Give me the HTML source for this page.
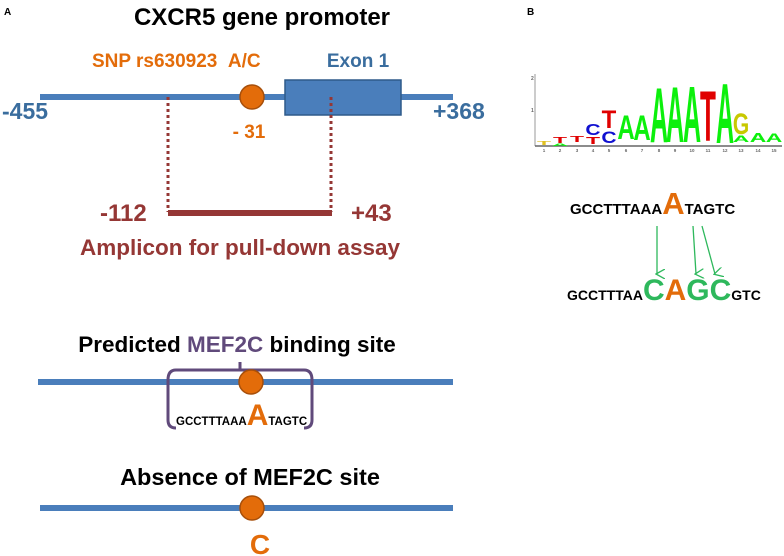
<!DOCTYPE html>
<html><head><meta charset="utf-8"><style>
html,body{margin:0;padding:0;background:#fff;width:784px;height:556px;overflow:hidden}
svg{display:block}
text{font-family:"Liberation Sans",sans-serif;font-weight:bold}
</style></head><body>
<svg width="784" height="556" viewBox="0 0 784 556" xmlns="http://www.w3.org/2000/svg">
<defs><marker id="ar" markerWidth="10" markerHeight="10" refX="5" refY="8" orient="auto" markerUnits="userSpaceOnUse"><path d="M0,0 L5,9 L10,0" fill="none" stroke="#2eb85c" stroke-width="1.3"/></marker></defs>
<text x="4" y="15" font-size="10">A</text>
<text x="527" y="15" font-size="10">B</text>
<text x="262" y="25" font-size="24" text-anchor="middle">CXCR5 gene promoter</text>
<text x="92" y="67" font-size="19" fill="#e36c0a">SNP rs630923&#160;&#160;A/C</text>
<text x="358" y="67" font-size="19" fill="#3a6d9e" text-anchor="middle">Exon 1</text>
<line x1="40" y1="97" x2="453" y2="97" stroke="#4a7ebb" stroke-width="6"/>
<rect x="285" y="80" width="116" height="35" fill="#4a7ebb" stroke="#2e5a8a" stroke-width="1.5"/>
<circle cx="252" cy="97" r="12" fill="#e36c0a" stroke="#a74f0a" stroke-width="1.5"/>
<text x="2" y="119" font-size="23" fill="#3a6d9e">-455</text>
<text x="433" y="119" font-size="23" fill="#3a6d9e">+368</text>
<text x="249" y="138" font-size="19" fill="#e36c0a" text-anchor="middle">- 31</text>
<line x1="168" y1="97" x2="168" y2="212" stroke="#953735" stroke-width="3" stroke-dasharray="3,3"/>
<line x1="331" y1="97" x2="331" y2="212" stroke="#953735" stroke-width="3" stroke-dasharray="3,3"/>
<line x1="168" y1="213" x2="332" y2="213" stroke="#953735" stroke-width="6"/>
<text x="100" y="221" font-size="24" fill="#953735">-112</text>
<text x="351" y="221" font-size="24" fill="#953735">+43</text>
<text x="240" y="255" font-size="22.5" fill="#953735" text-anchor="middle">Amplicon for pull-down assay</text>
<text x="237" y="352" font-size="22.5" text-anchor="middle">Predicted <tspan fill="#604a7b">MEF2C</tspan> binding site</text>
<line x1="38" y1="382" x2="453" y2="382" stroke="#4a7ebb" stroke-width="6"/>
<path d="M240,362 V370 M176,370 H304 M176,370 Q168,370 168,380 V420 Q168,428 176,428 M304,370 Q312,370 312,380 V420 Q312,428 304,428" fill="none" stroke="#604a7b" stroke-width="3"/>
<circle cx="251" cy="382" r="12" fill="#e36c0a" stroke="#a74f0a" stroke-width="1.5"/>
<text x="176" y="425" font-size="11.5">GCCTTTAAA<tspan font-size="30" fill="#e36c0a">A</tspan>TAGTC</text>
<text x="250" y="485" font-size="23.5" text-anchor="middle">Absence of MEF2C site</text>
<line x1="40" y1="508" x2="453" y2="508" stroke="#4a7ebb" stroke-width="6"/>
<circle cx="252" cy="508" r="12" fill="#e36c0a" stroke="#a74f0a" stroke-width="1.5"/>
<text x="260" y="554" font-size="28" fill="#e36c0a" text-anchor="middle">C</text>
<!-- logo -->
<g>
<line x1="535" y1="74" x2="535" y2="146" stroke="#999" stroke-width="1"/>
<line x1="535" y1="146" x2="782" y2="146" stroke="#666" stroke-width="1.5"/>
<text x="531" y="80" font-size="5" fill="#666" font-weight="normal">2</text>
<text x="531" y="112" font-size="5" fill="#666" font-weight="normal">1</text>
<g font-size="4.5" fill="#666" font-weight="normal" text-anchor="middle">
<text x="544" y="152">1</text><text x="560" y="152">2</text><text x="577" y="152">3</text><text x="593" y="152">4</text><text x="609" y="152">5</text><text x="626" y="152">6</text><text x="642" y="152">7</text><text x="659" y="152">8</text><text x="675" y="152">9</text><text x="692" y="152">10</text><text x="708" y="152">11</text><text x="725" y="152">12</text><text x="741" y="152">13</text><text x="758" y="152">14</text><text x="774" y="152">15</text>
</g>
<g font-size="10" text-anchor="middle">
<text transform="translate(544,145) scale(2.3,0.5)" fill="#e0c020">T</text>
<text transform="translate(560,143) scale(2.3,0.8)" fill="#e00000">T</text>
<text transform="translate(560,146) scale(2.3,0.4)" fill="#0cf00c">A</text>
<text transform="translate(577,142) scale(2.3,0.8)" fill="#e00000">T</text>
<text transform="translate(593,135) scale(2.1,1.6)" fill="#1010d0">C</text>
<text transform="translate(593,144) scale(2.3,1)" fill="#e00000">T</text>
<text transform="translate(609,128) scale(2.4,2.5)" fill="#e00000">T</text>
<text transform="translate(609,143) scale(2.1,1.7)" fill="#1010d0">C</text>
<text transform="translate(626,139) scale(2.4,3.4)" fill="#0cf00c">A</text>
<text transform="translate(642,140) scale(2.4,3.5)" fill="#0cf00c">A</text>
<text transform="translate(659,142) scale(2.5,7.8)" fill="#0cf00c">A</text>
<text transform="translate(675,142) scale(2.5,7.9)" fill="#0cf00c">A</text>
<text transform="translate(692,142) scale(2.5,8)" fill="#0cf00c">A</text>
<text transform="translate(708,141) scale(2.6,7.1)" fill="#e00000">T</text>
<text transform="translate(725,143) scale(2.5,8.5)" fill="#0cf00c">A</text>
<text transform="translate(741,134) scale(2.1,3)" fill="#c8c800">G</text>
<text transform="translate(741,142) scale(2.3,0.9)" fill="#0cf00c">A</text>
<text transform="translate(758,142) scale(2.3,1.3)" fill="#0cf00c">A</text>
<text transform="translate(774,142) scale(2.3,1.2)" fill="#0cf00c">A</text>
</g>
</g>
<text x="570" y="214" font-size="15">GCCTTTAAA<tspan font-size="31" fill="#e36c0a">A</tspan>TAGTC</text>
<line x1="657" y1="226" x2="657" y2="274" stroke="#2eb85c" stroke-width="1.3" marker-end="url(#ar)"/>
<line x1="693" y1="226" x2="696" y2="274" stroke="#2eb85c" stroke-width="1.3" marker-end="url(#ar)"/>
<line x1="702" y1="226" x2="715" y2="274" stroke="#2eb85c" stroke-width="1.3" marker-end="url(#ar)"/>
<text x="567" y="300" font-size="14">GCCTTTAA<tspan font-size="30" fill="#2eb85c">C</tspan><tspan font-size="30" fill="#e36c0a">A</tspan><tspan font-size="30" fill="#2eb85c">GC</tspan>GTC</text>
</svg>
</body></html>
